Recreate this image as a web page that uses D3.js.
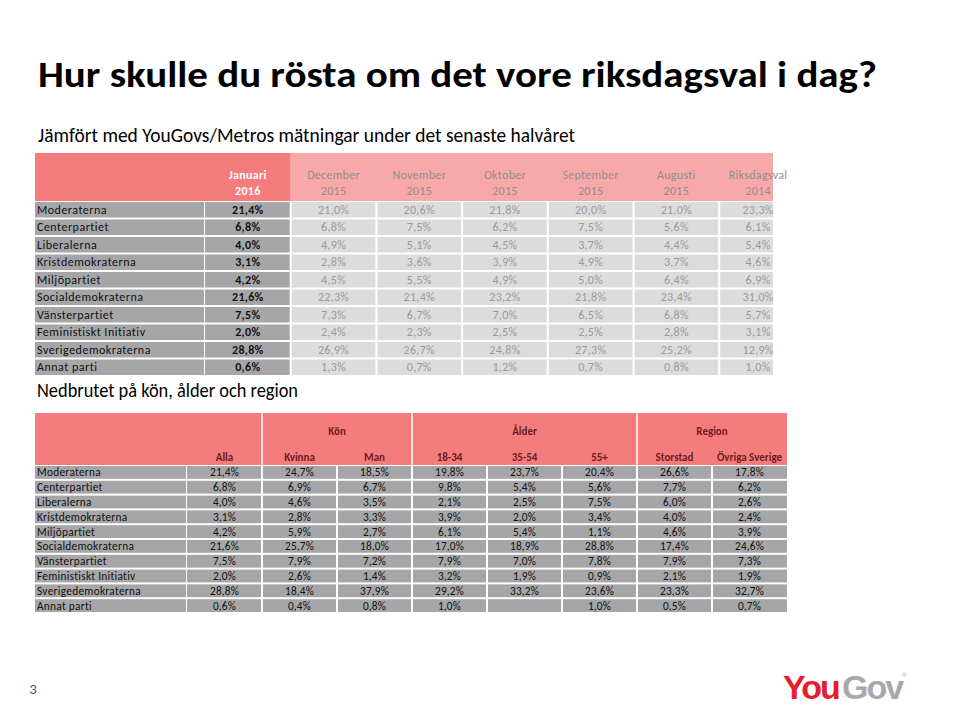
<!DOCTYPE html>
<html><head><meta charset="utf-8">
<script src="https://cdn.jsdelivr.net/npm/d3@7"></script>
<style>
html,body{margin:0;padding:0;background:#fff;}
text{font-family:Carlito,"Open Sans","Liberation Sans",sans-serif;}
text.logo{font-family:"Liberation Sans",Arial,sans-serif;}
</style></head>
<body>
<svg id="c" width="960" height="706"></svg>
<script>
// ---------- DATA ----------
const title = "Hur skulle du rösta om det vore riksdagsval i dag?";
const subtitle = "Jämfört med YouGovs/Metros mätningar under det senaste halvåret";
const subtitle2 = "Nedbrutet på kön, ålder och region";
const parties = ["Moderaterna","Centerpartiet","Liberalerna","Kristdemokraterna","Miljöpartiet",
  "Socialdemokraterna","Vänsterpartiet","Feministiskt Initiativ","Sverigedemokraterna","Annat parti"];
const periods = [["Januari","2016"],["December","2015"],["November","2015"],["Oktober","2015"],
  ["September","2015"],["Augusti","2015"],["Riksdagsval","2014"]];
const januari     = [21.4,6.8,4.0,3.1,4.2,21.6,7.5,2.0,28.8,0.6];
const december    = [21.0,6.8,4.9,2.8,4.5,22.3,7.3,2.4,26.9,1.3];
const november    = [20.6,7.5,5.1,3.6,5.5,21.4,6.7,2.3,26.7,0.7];
const oktober     = [21.8,6.2,4.5,3.9,4.9,23.2,7.0,2.5,24.8,1.2];
const september   = [20.0,7.5,3.7,4.9,5.0,21.8,6.5,2.5,27.3,0.7];
const augusti     = [21.0,5.6,4.4,3.7,6.4,23.4,6.8,2.8,25.2,0.8];
const riksdagsval = [23.3,6.1,5.4,4.6,6.9,31.0,5.7,3.1,12.9,1.0];
const trendSeries = [januari,december,november,oktober,september,augusti,riksdagsval];

const groups = [["",1],["Kön",2],["Ålder",3],["Region",2]];
const segments = ["Alla","Kvinna","Man","18-34","35-54","55+","Storstad","Övriga Sverige"];
const alla     = [21.4,6.8,4.0,3.1,4.2,21.6,7.5,2.0,28.8,0.6];
const kvinna   = [24.7,6.9,4.6,2.8,5.9,25.7,7.9,2.6,18.4,0.4];
const man      = [18.5,6.7,3.5,3.3,2.7,18.0,7.2,1.4,37.9,0.8];
const age1834  = [19.8,9.8,2.1,3.9,6.1,17.0,7.9,3.2,29.2,1.0];
const age3554  = [23.7,5.4,2.5,2.0,5.4,18.9,7.0,1.9,33.2,null];
const age55    = [20.4,5.6,7.5,3.4,1.1,28.8,7.8,0.9,23.6,1.0];
const storstad = [26.6,7.7,6.0,4.0,4.6,17.4,7.9,2.1,23.3,0.5];
const ovriga   = [17.8,6.2,2.6,2.4,3.9,24.6,7.3,1.9,32.7,0.7];
const segSeries = [alla,kvinna,man,age1834,age3554,age55,storstad,ovriga];

// ---------- DRAW ----------
const svg = d3.select("#c");
const fmt = v => v == null ? "" : d3.format(".1f")(v).replace(".", ",") + "%";
const RED = "#F47C7C", PINK = "#F8A8A8", DARK = "#A6A6A8", LIGHT = "#DCDCDC";

svg.append("text").attr("x",38).attr("y",87).attr("font-size",37).attr("font-weight","bold")
  .attr("fill","#000").attr("textLength",839).attr("lengthAdjust","spacingAndGlyphs").text(title);
svg.append("text").attr("x",38).attr("y",142).attr("font-size",20)
  .attr("fill","#000").attr("textLength",537).attr("lengthAdjust","spacingAndGlyphs").text(subtitle);

// ===== Top table =====
const T = {left:35, labelRight:205, right:773, top:153, headBottom:201, bottom:376};
const colW = 85.7;
const xT = d3.scaleBand().domain(d3.range(periods.length))
  .range([T.labelRight, T.labelRight + colW*periods.length]).padding(0);
const yT = d3.scaleBand().domain(parties).range([T.headBottom, T.bottom]);
const clipR = i => Math.min(xT(i)+xT.bandwidth(), T.right);

const topG = svg.append("g");
topG.append("rect").attr("x",T.left).attr("y",T.top).attr("width",xT(1)-T.left)
  .attr("height",T.headBottom-T.top).attr("fill",RED);
topG.append("rect").attr("x",xT(1)).attr("y",T.top).attr("width",T.right-xT(1))
  .attr("height",T.headBottom-T.top).attr("fill",PINK);
periods.forEach((p,i)=>{
  const cx = xT(i)+xT.bandwidth()/2 - (i===periods.length-1?4:0);
  const t = topG.append("text").attr("x",cx).attr("text-anchor","middle").attr("font-size",12)
    .attr("letter-spacing",0.3)
    .attr("font-weight",i===0?"bold":"normal").attr("fill",i===0?"#fff":"#8f8f8f");
  t.append("tspan").attr("x",cx).attr("y",179).text(p[0]);
  t.append("tspan").attr("x",cx).attr("y",195).text(p[1]);
});
parties.forEach((party,r)=>{
  const y = yT(party), h = yT.bandwidth();
  topG.append("rect").attr("x",T.left).attr("y",y+1).attr("width",T.labelRight-T.left-1)
    .attr("height",h-2).attr("fill",DARK);
  topG.append("text").attr("x",T.left+2).attr("y",y+h/2+4).attr("font-size",12)
    .attr("letter-spacing",0.5).attr("fill","#111").text(party);
  trendSeries.forEach((s,i)=>{
    const x0 = xT(i), x1 = clipR(i);
    topG.append("rect").attr("x",x0+(i===0?0:1)).attr("y",y+1)
      .attr("width",x1-x0-(i===0?0:1)-(i===periods.length-1?0:1))
      .attr("height",h-2).attr("fill",i===0?DARK:LIGHT);
    topG.append("text").attr("x",x0+xT.bandwidth()/2 - (i===periods.length-1?4:0)).attr("y",y+h/2+4)
      .attr("text-anchor","middle").attr("letter-spacing",0.3)
      .attr("font-size",12).attr("font-weight",i===0?"bold":"normal")
      .attr("fill",i===0?"#111":"#9a9a9a").text(fmt(s[r]));
  });
});

svg.append("text").attr("x",37).attr("y",397).attr("font-size",19.5)
  .attr("fill","#000").attr("textLength",261).attr("lengthAdjust","spacingAndGlyphs").text(subtitle2);

// ===== Bottom table =====
const B = {left:35, labelRight:187, right:787, top:413, headBottom:465, bottom:613};
const xB = d3.scaleBand().domain(d3.range(segments.length)).range([B.labelRight, B.right]);
const yB = d3.scaleBand().domain(parties).range([B.headBottom, B.bottom]);
const botG = svg.append("g");
botG.append("rect").attr("x",B.left).attr("y",B.top).attr("width",B.right-B.left)
  .attr("height",B.headBottom-B.top).attr("fill",RED);
let gi = 0;
groups.forEach(([g,n])=>{
  const x0 = xB(gi), x1 = xB(gi+n-1)+xB.bandwidth();
  if (g) {
    botG.append("text").attr("x",(x0+x1)/2).attr("y",435).attr("text-anchor","middle")
      .attr("font-size",11).attr("font-weight","bold").attr("fill","#6e1c1c").text(g);
  }
  if (gi+n < segments.length)
    botG.append("line").attr("x1",x1).attr("x2",x1).attr("y1",B.top).attr("y2",B.headBottom)
      .attr("stroke","#fff").attr("stroke-width",1.5);
  gi += n;
});
segments.forEach((s,i)=>{
  botG.append("text").attr("x",xB(i)+xB.bandwidth()/2).attr("y",461).attr("text-anchor","middle")
    .attr("font-size",11).attr("font-weight","bold").attr("fill","#6e1c1c").text(s);
});
parties.forEach((party,r)=>{
  const y = yB(party), h = yB.bandwidth();
  botG.append("rect").attr("x",B.left).attr("y",y+1).attr("width",B.labelRight-B.left-1)
    .attr("height",h-2).attr("fill",DARK);
  botG.append("text").attr("x",B.left+2).attr("y",y+h/2+4).attr("font-size",11.3)
    .attr("letter-spacing",0.3).attr("fill","#111").text(party);
  segSeries.forEach((s,i)=>{
    const x0 = xB(i), w = xB.bandwidth();
    botG.append("rect").attr("x",x0+(i===0?0:1)).attr("y",y+1)
      .attr("width",w-(i===0?0:1)-(i===segments.length-1?0:1))
      .attr("height",h-2).attr("fill",DARK);
    botG.append("text").attr("x",x0+w/2).attr("y",y+h/2+4).attr("text-anchor","middle")
      .attr("font-size",11.3).attr("letter-spacing",0.2).attr("fill","#111").text(fmt(s[r]));
  });
});

svg.append("text").attr("x",33).attr("y",694).attr("font-size",15).attr("text-anchor","middle")
  .attr("fill","#555").text("3");
svg.append("text").attr("class","logo").attr("x",783).attr("y",699).attr("font-size",34).attr("font-weight","bold")
  .attr("letter-spacing",-2).attr("fill","#E3202C").text("You");
svg.append("text").attr("class","logo").attr("x",842).attr("y",699).attr("font-size",34).attr("font-weight","bold")
  .attr("letter-spacing",-2).attr("fill","#A7A9AC").text("Gov");
svg.append("text").attr("class","logo").attr("x",902).attr("y",677).attr("font-size",6).attr("fill","#A7A9AC").text("®");
</script>
</body></html>
